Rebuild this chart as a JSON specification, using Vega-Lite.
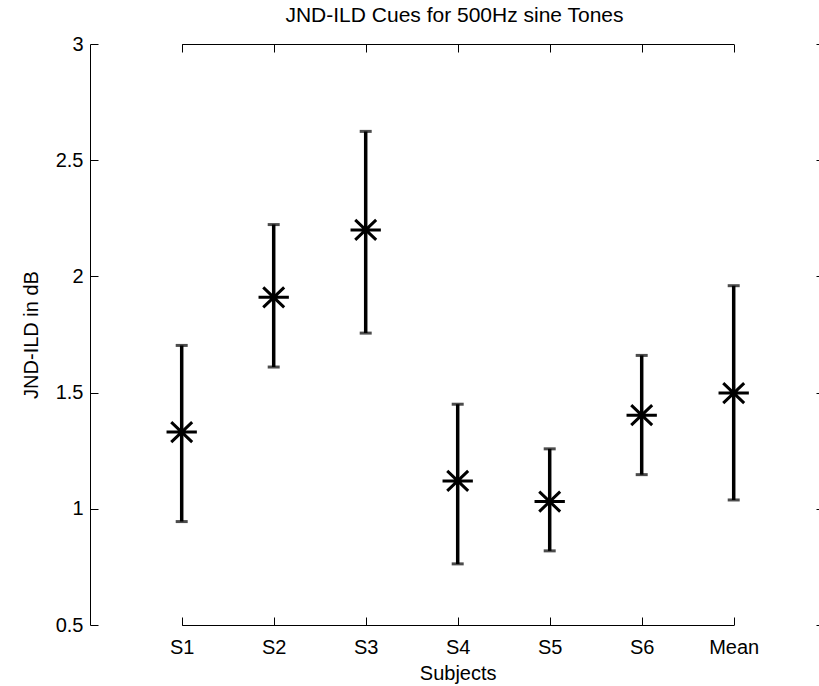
{
  "$schema": "https://vega.github.io/schema/vega-lite/v6.json",
  "width": 729,
  "height": 581,
  "autosize": {"type": "none"},
  "padding": {"left": 90, "top": 44, "right": 0, "bottom": 61},
  "background": "white",
  "config": {
    "view": {"stroke": null},
    "font": "Liberation Sans",
    "axis": {
      "labelFont": "Liberation Sans",
      "titleFont": "Liberation Sans",
      "labelColor": "black",
      "titleColor": "black",
      "domainColor": "black",
      "tickColor": "black",
      "grid": false,
      "labelFontSize": 20,
      "titleFontSize": 20,
      "titleFontWeight": "normal",
      "domainWidth": 1,
      "tickWidth": 1
    }
  },
  "title": {
    "text": "JND-ILD Cues for 500Hz sine Tones",
    "fontSize": 21,
    "fontWeight": "normal",
    "font": "Liberation Sans",
    "color": "black",
    "offset": 8
  },
  "data": {
    "values": [
      {"subject": "S1", "mean": 1.33, "low": 0.945, "high": 1.703},
      {"subject": "S2", "mean": 1.91, "low": 1.61, "high": 2.223},
      {"subject": "S3", "mean": 2.2, "low": 1.756, "high": 2.624},
      {"subject": "S4", "mean": 1.12, "low": 0.763, "high": 1.45},
      {"subject": "S5", "mean": 1.031, "low": 0.819, "high": 1.258},
      {"subject": "S6", "mean": 1.403, "low": 1.147, "high": 1.66},
      {"subject": "Mean", "mean": 1.498, "low": 1.038, "high": 1.96}
    ]
  },
  "layer": [
    {
      "mark": {"type": "rule", "color": "black", "strokeWidth": 3.5},
      "encoding": {
        "x": {
          "field": "subject", "type": "ordinal", "sort": null,
          "scale": {"type": "point", "range": [91.7, 643.7], "padding": 0},
          "axis": {"orient": "bottom", "title": "Subjects", "labelAngle": 0, "ticks": false, "labelPadding": 12, "titlePadding": 6}
        },
        "y": {
          "field": "low", "type": "quantitative",
          "scale": {"domain": [0.5, 3], "nice": false, "zero": false},
          "axis": {"orient": "left", "title": "JND-ILD in dB", "values": [0.5, 1, 1.5, 2, 2.5, 3], "format": "~g", "ticks": false, "labelPadding": 7, "titlePadding": 14}
        },
        "y2": {"field": "high"}
      }
    },
    {
      "mark": {"type": "tick", "color": "black", "size": 12, "thickness": 3},
      "encoding": {
        "x": {
          "field": "subject", "type": "ordinal", "sort": null,
          "axis": {"orient": "top", "offset": -581, "title": null, "labels": false, "domain": false, "tickSize": 8}
        },
        "y": {
          "field": "low", "type": "quantitative",
          "axis": {"orient": "right", "offset": -729, "title": null, "labels": false, "domain": false, "values": [0.5, 1, 1.5, 2, 2.5, 3], "tickSize": 8}
        }
      }
    },
    {
      "mark": {"type": "tick", "color": "black", "size": 12, "thickness": 3},
      "encoding": {
        "x": {
          "field": "subject", "type": "ordinal", "sort": null,
          "axis": {"orient": "bottom", "offset": -581, "title": null, "labels": false, "domain": true, "tickSize": 8}
        },
        "y": {
          "field": "high", "type": "quantitative",
          "axis": {"orient": "left", "offset": -734, "title": null, "labels": false, "domain": false, "values": [0.5, 1, 1.5, 2, 2.5, 3], "tickSize": 8}
        }
      }
    },
    {
      "mark": {
        "type": "point",
        "shape": "M-1,0L1,0M-0.69,-0.66L0.69,0.66M-0.69,0.66L0.69,-0.66",
        "filled": false,
        "stroke": "black",
        "strokeWidth": 3,
        "size": 920,
        "opacity": 1
      },
      "encoding": {
        "x": {"field": "subject", "type": "ordinal", "sort": null, "axis": null},
        "y": {"field": "mean", "type": "quantitative", "axis": null}
      }
    }
  ],
  "resolve": {"axis": {"x": "independent", "y": "independent"}}
}
